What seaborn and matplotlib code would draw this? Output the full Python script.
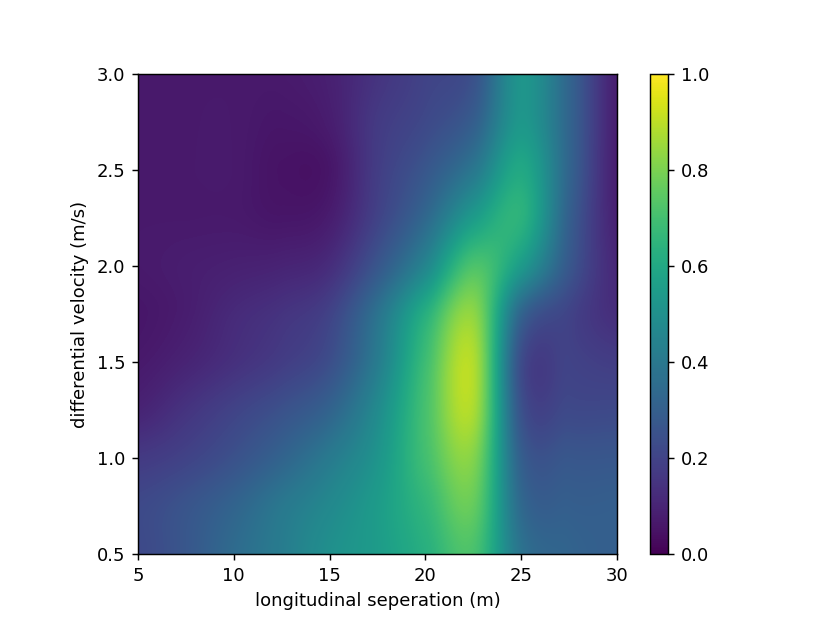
import numpy as np
import matplotlib
matplotlib.use("Agg")
import matplotlib.pyplot as plt
import seaborn as sns

# grid the surface was sampled on
separation = [5, 7.5, 10, 12.5, 15, 17.5, 20, 22.5, 25, 27.5, 30]
velocity = [0.5, 0.75, 1.0, 1.25, 1.5, 1.75, 2.0, 2.25, 2.5, 2.75, 3.0]

# values, one row per velocity (bottom to top)
v050 = [0.22, 0.27, 0.35, 0.42, 0.50, 0.55, 0.63, 0.71, 0.38, 0.32, 0.30]
v075 = [0.22, 0.26, 0.32, 0.40, 0.47, 0.55, 0.66, 0.76, 0.34, 0.30, 0.30]
v100 = [0.17, 0.20, 0.25, 0.32, 0.41, 0.52, 0.70, 0.81, 0.30, 0.27, 0.27]
v125 = [0.10, 0.15, 0.20, 0.25, 0.32, 0.48, 0.71, 0.87, 0.25, 0.22, 0.22]
v150 = [0.07, 0.10, 0.14, 0.18, 0.24, 0.42, 0.69, 0.88, 0.23, 0.20, 0.18]
v175 = [0.06, 0.08, 0.12, 0.15, 0.20, 0.38, 0.63, 0.83, 0.32, 0.20, 0.13]
v200 = [0.07, 0.08, 0.09, 0.10, 0.13, 0.27, 0.46, 0.72, 0.54, 0.27, 0.11]
v225 = [0.07, 0.07, 0.07, 0.06, 0.08, 0.20, 0.34, 0.55, 0.64, 0.30, 0.09]
v250 = [0.07, 0.07, 0.07, 0.05, 0.06, 0.18, 0.27, 0.40, 0.60, 0.32, 0.08]
v275 = [0.07, 0.07, 0.07, 0.06, 0.08, 0.17, 0.22, 0.30, 0.53, 0.32, 0.08]
v300 = [0.07, 0.07, 0.07, 0.07, 0.09, 0.15, 0.20, 0.25, 0.52, 0.32, 0.08]

grid = np.array([v050, v075, v100, v125, v150, v175, v200, v225, v250, v275, v300])

plt.rcParams["font.family"] = ["DejaVu Sans"]
cmap = sns.color_palette("viridis", as_cmap=True)

fig = plt.figure(figsize=(830 / 130, 623 / 130), dpi=130)
ax = fig.add_axes([138 / 830, 1 - 554 / 623, 479 / 830, 480 / 623])
cax = fig.add_axes([650 / 830, 1 - 554 / 623, 18 / 830, 480 / 623])

# put each sample at the centre of its image cell
dx = (separation[1] - separation[0]) / 2
dy = (velocity[1] - velocity[0]) / 2
im = ax.imshow(grid, origin="lower", cmap=cmap, vmin=0, vmax=1,
               interpolation="catrom", aspect="auto",
               extent=[separation[0] - dx, separation[-1] + dx,
                       velocity[0] - dy, velocity[-1] + dy])
ax.set_xlim(separation[0], separation[-1])
ax.set_ylim(velocity[0], velocity[-1])
ax.set_xticks([5, 10, 15, 20, 25, 30])
ax.set_yticks([0.5, 1.0, 1.5, 2.0, 2.5, 3.0])
ax.set_xlabel("longitudinal seperation (m)")
ax.set_ylabel("differential velocity (m/s)")

cb = fig.colorbar(im, cax=cax)
cb.set_ticks([0.0, 0.2, 0.4, 0.6, 0.8, 1.0])

fig.savefig("out.png", dpi=130)
